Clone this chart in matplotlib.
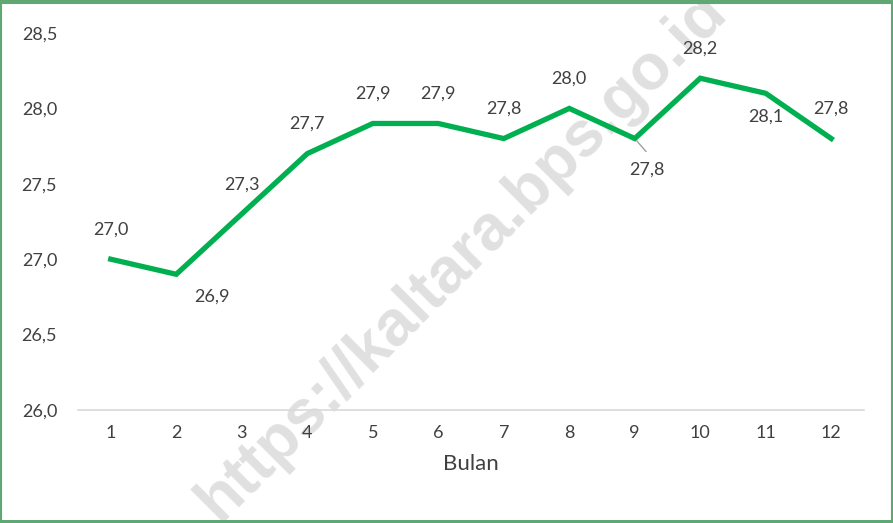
import numpy as np
import matplotlib.pyplot as plt
from matplotlib.patches import Rectangle

plt.rcParams['font.family'] = ['Lato', 'DejaVu Sans']

bulan = [1, 2, 3, 4, 5, 6, 7, 8, 9, 10, 11, 12]
nilai = [27.0, 26.9, 27.3, 27.7, 27.9, 27.9, 27.8, 28.0, 27.8, 28.2, 28.1, 27.8]
yticks = [26.0, 26.5, 27.0, 27.5, 28.0, 28.5]

# label offsets in pixels (dx, dy), Excel-style placement
offsets = [(0, 30), (36, -22), (0, 29), (0, 30), (0, 30), (0, 30),
           (0, 30), (0, 30), (12, -31), (0, 30), (0, -23), (0, 30)]

fig = plt.figure(figsize=(8.93, 5.23), dpi=100)
ax = fig.add_axes([78 / 893, 1 - 410 / 523, (864 - 78) / 893, (410 - 33) / 523])
ax.patch.set_alpha(0)

green = '#00b050'
txt = '#404040'

ax.plot(bulan, nilai, color=green, lw=3.8, solid_joinstyle='miter', zorder=3)

for i, (x, y) in enumerate(zip(bulan, nilai)):
    dx, dy = offsets[i]
    ax.annotate(f'{y:.1f}'.replace('.', ','), (x, y), xytext=(dx * 0.72, dy * 0.72),
                textcoords='offset points', ha='center', va='center',
                fontsize=13, color=txt, zorder=4)
# leader line for label 9
ax.annotate('', (9, 27.8), xytext=(9.2, 27.7), arrowprops=dict(arrowstyle='-', color='#a0a0a0', lw=1))

ax.set_xlim(0.5, 12.5)
ax.set_ylim(26.0, 28.5)
ax.set_xticks(bulan)
ax.set_xticklabels([str(b) for b in bulan])
ax.set_yticks(yticks)
ax.set_yticklabels([f'{v:.1f}'.replace('.', ',') for v in yticks])
ax.tick_params(length=0, labelsize=13, labelcolor=txt)
ax.tick_params(axis='x', pad=11)
ax.tick_params(axis='y', pad=15)
for s in ['top', 'right', 'left']:
    ax.spines[s].set_visible(False)
ax.spines['bottom'].set_color('#d9d9d9')
ax.spines['bottom'].set_linewidth(1.2)
ax.set_xlabel('Bulan', fontsize=16, color=txt, labelpad=9)

# watermark (runs off the edges, as in the source)
fig.text(0.517, 0.51, 'https://kaltara.bps.go.id', fontsize=46, fontweight='bold',
         family='Liberation Sans', color='#d6d6d6', alpha=0.75, rotation=45,
         ha='center', va='center', zorder=-1)

# figure border
fig.patches.append(Rectangle((0.5 / 893, 0.5 / 523), 1 - 1.5 / 893, 1 - 3 / 523,
                             transform=fig.transFigure, fill=False,
                             edgecolor='#5fa873', lw=1.5))
fig.patches.append(Rectangle((0, 1 - 3 / 523), 1, 3 / 523, transform=fig.transFigure,
                             color='#5fa873', lw=0))
fig.patches.append(Rectangle((0, 0), 1, 3 / 523, transform=fig.transFigure,
                             color='#5fa873', lw=0))

fig.savefig('out.png', dpi=100)
